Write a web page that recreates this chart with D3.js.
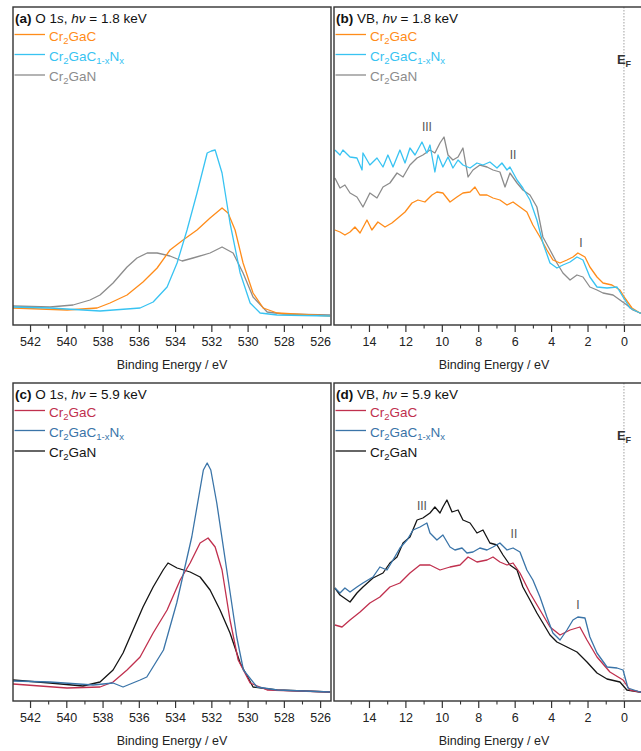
<!DOCTYPE html>
<html><head><meta charset="utf-8">
<script src="https://cdn.jsdelivr.net/npm/d3@7"></script>
<style>body{margin:0;background:#fff} svg text{font-family:"Liberation Sans",Arial,sans-serif}</style>
</head><body><svg id="c" width="641" height="751"></svg>
<script>
// ---------- tick labels ----------
const ticksO1s = [542,540,538,536,534,532,530,528,526];
const minorO1s = [543,541,539,537,535,533,531,529,527,525];
const ticksVB = [14,12,10,8,6,4,2,0];
const minorVB = [15,13,11,9,7,5,3,1,-1];

// ---------- (a) O 1s, 1.8 keV  [binding energy eV, intensity a.u.] ----------
const a_Cr2GaC = [[542.94,17],[539.96,15],[538.30,17],[537.59,22],[536.65,30],[535.77,43],[534.99,57],[534.28,75],[533.56,85],[532.79,95],[532.07,107],[531.41,117],[531.08,112],[530.69,95],[530.25,62],[529.70,32],[529.14,17],[528.37,12],[525.45,9]];
const a_Cr2GaCN = [[542.94,18],[540.9,17],[538.14,14],[535.93,17],[535.21,23],[534.44,38],[533.89,62],[533.34,95],[532.79,132],[532.23,172],[532.0,174],[531.79,175],[531.41,152],[530.97,102],[530.41,52],[529.86,22],[529.31,12],[528.37,10],[525.45,9]];
const a_Cr2GaN = [[542.94,19],[540.9,18],[539.63,20],[538.69,25],[538.14,30],[537.42,42],[536.65,58],[536.10,67],[535.54,72],[534.99,72],[534.28,69],[533.61,64],[533.01,67],[532.07,72],[531.41,78],[530.80,72],[530.25,52],[529.70,28],[528.92,13],[528.04,11],[525.45,10]];

// ---------- (b) VB, 1.8 keV ----------
const b_Cr2GaC = [[15.87,95],[15.59,93],[15.32,90],[15.04,93],[14.77,98],[14.49,92],[14.11,105],[13.84,95],[13.51,103],[13.12,98],[12.74,102],[12.41,107],[12.02,113],[11.64,122],[11.31,125],[10.93,123],[10.54,130],[10.27,133],[9.94,132],[9.55,123],[9.17,128],[8.84,132],[8.45,133],[8.18,138],[7.91,130],[7.52,130],[7.19,127],[6.81,125],[6.42,120],[6.09,123],[5.71,118],[5.33,113],[5.00,100],[4.61,88],[4.23,75],[3.90,65],[3.51,62],[3.13,65],[2.80,68],[2.53,72],[2.14,68],[1.87,58],[1.48,48],[1.15,42],[0.66,40],[0.22,35],[-0.05,27],[-0.44,17],[-0.88,12],[-1.5,11]];
const b_Cr2GaCN = [[15.87,175],[15.59,170],[15.43,175],[15.04,168],[14.66,167],[14.38,155],[14.33,172],[13.95,160],[13.56,167],[13.23,158],[12.96,170],[12.68,158],[12.30,175],[12.02,162],[11.75,177],[11.47,170],[11.09,183],[10.82,172],[10.65,180],[10.38,153],[10.21,170],[9.94,158],[9.66,168],[9.39,157],[9.11,165],[8.84,160],[8.45,157],[8.07,162],[7.74,160],[7.36,163],[6.97,157],[6.70,162],[6.42,155],[6.26,158],[5.87,145],[5.55,137],[5.16,125],[4.78,105],[4.45,82],[4.06,62],[3.68,57],[3.35,60],[2.96,63],[2.58,68],[2.25,65],[1.87,48],[1.48,38],[0.93,37],[0.38,38],[0.05,28],[-0.33,17],[-0.88,12],[-1.5,11]];
const b_Cr2GaN = [[15.87,147],[15.59,137],[15.32,140],[15.04,132],[14.66,128],[14.33,118],[13.95,132],[13.56,127],[13.23,138],[12.85,142],[12.46,152],[12.13,148],[11.75,160],[11.36,167],[11.04,170],[10.65,175],[10.38,172],[10.10,182],[9.88,188],[9.66,170],[9.39,165],[9.11,168],[8.84,177],[8.56,148],[8.29,155],[7.91,160],[7.52,158],[7.19,155],[6.81,153],[6.53,138],[6.26,152],[5.87,142],[5.55,135],[5.16,130],[4.78,118],[4.45,88],[4.06,75],[3.68,62],[3.35,52],[2.96,45],[2.58,50],[2.25,48],[1.87,38],[1.48,35],[1.15,32],[0.60,30],[0.22,25],[-0.16,20],[-0.49,15],[-0.88,12],[-1.5,11]];

// ---------- (c) O 1s, 5.9 keV ----------
const c_Cr2GaC = [[542.94,17],[539.96,13],[538.14,14],[537.42,19],[536.65,31],[535.93,44],[535.21,68],[534.44,91],[533.72,121],[533.17,138],[532.62,158],[532.18,163],[531.79,154],[531.41,131],[530.97,81],[530.52,41],[529.86,18],[528.92,11],[525.45,9]];
const c_Cr2GaCN = [[542.94,20],[540.9,19],[538.52,16],[537.42,18],[536.87,14],[535.93,21],[535.56,24],[534.64,51],[533.91,98],[533.08,164],[532.44,231],[532.23,238],[532.03,231],[531.70,198],[531.15,131],[530.60,64],[530.23,31],[529.48,14],[528.37,11],[525.45,9]];
const c_Cr2GaN = [[542.94,21],[540.9,18],[539.08,15],[538.14,19],[537.42,31],[536.87,48],[536.32,71],[535.77,94],[535.21,114],[534.66,131],[534.39,138],[533.89,133],[533.17,129],[532.62,124],[532.07,111],[531.52,91],[530.97,68],[530.41,38],[529.70,14],[528.37,11],[525.45,9]];

// ---------- (d) VB, 5.9 keV ----------
const d_Cr2GaC = [[15.87,76],[15.48,74],[15.04,81],[14.49,89],[13.95,98],[13.40,104],[12.85,114],[12.30,118],[11.75,128],[11.20,136],[10.65,136],[10.10,131],[9.55,134],[9.00,136],[8.56,144],[8.07,139],[7.52,141],[7.19,144],[6.81,139],[6.42,136],[6.09,138],[5.71,128],[5.16,108],[4.61,91],[4.06,74],[3.51,66],[2.96,71],[2.42,74],[2.03,61],[1.48,44],[0.77,29],[0.05,21],[-0.33,11],[-0.88,9],[-1.5,9]];
const d_Cr2GaCN = [[15.87,113],[15.59,108],[15.32,113],[15.04,109],[14.66,114],[14.33,118],[13.78,124],[13.40,134],[13.01,131],[12.68,141],[12.30,153],[11.91,161],[11.58,171],[11.20,174],[10.82,178],[10.65,168],[10.27,161],[9.94,166],[9.55,154],[9.28,151],[8.89,153],[8.62,148],[8.29,149],[7.91,153],[7.52,151],[7.19,154],[6.81,158],[6.42,151],[6.09,153],[5.71,149],[5.33,131],[5.00,121],[4.61,104],[4.23,84],[3.90,68],[3.51,61],[3.13,71],[2.80,81],[2.53,84],[2.14,83],[1.87,64],[1.48,48],[0.93,34],[0.38,33],[0.05,31],[-0.22,13],[-0.88,9],[-1.5,9]];
const d_Cr2GaN = [[15.87,113],[15.59,106],[15.04,99],[14.66,108],[14.33,114],[13.78,123],[13.23,128],[12.85,138],[12.46,144],[12.13,158],[11.75,164],[11.36,181],[11.04,183],[10.65,188],[10.38,194],[10.10,188],[9.94,194],[9.72,201],[9.44,189],[9.11,191],[8.84,181],[8.45,178],[8.07,168],[7.74,171],[7.36,158],[6.97,156],[6.64,146],[6.26,136],[5.87,131],[5.55,114],[5.16,101],[4.78,88],[4.45,78],[4.06,66],[3.68,59],[3.13,54],[2.58,49],[2.03,39],[1.48,28],[0.93,22],[0.22,19],[-0.16,11],[-0.88,9],[-1.5,9]];

// ---------- peak annotations [label, eV, intensity] ----------
const annB = [["III",10.82,194],["II",6.09,166],["I",2.36,78]];
const annD = [["III",11.09,191],["II",6.04,163],["I",2.53,92]];

// ---------- colours ----------
const col18 = ["#ff8c1a","#38c3f2","#8c8c8c"];
const col59 = ["#c0304e","#3a74a8","#141414"];

const svg = d3.select("#c");
const names = [
  [["Cr",0],["2",1],["GaC",0]],
  [["Cr",0],["2",1],["GaC",0],["1-x",1],["N",0],["x",1]],
  [["Cr",0],["2",1],["GaN",0]]
];

const panels = [
  {id:"a", box:[13,7,331,325], dom:[542.94,525.4], ticks:ticksO1s, minor:minorO1s, label:"(a)", line:"O 1", sub:"s", hv:"1.8", data:[a_Cr2GaC,a_Cr2GaCN,a_Cr2GaN], cols:col18, ef:false, ann:[]},
  {id:"b", box:[334,7,654,325], dom:[15.92,-1.65], ticks:ticksVB, minor:minorVB, label:"(b)", line:"VB", sub:"", hv:"1.8", data:[b_Cr2GaC,b_Cr2GaCN,b_Cr2GaN], cols:col18, ef:true, ann:annB},
  {id:"c", box:[13,383,331,701], dom:[542.94,525.4], ticks:ticksO1s, minor:minorO1s, label:"(c)", line:"O 1", sub:"s", hv:"5.9", data:[c_Cr2GaC,c_Cr2GaCN,c_Cr2GaN], cols:col59, ef:false, ann:[]},
  {id:"d", box:[334,383,654,701], dom:[15.92,-1.65], ticks:ticksVB, minor:minorVB, label:"(d)", line:"VB", sub:"", hv:"5.9", data:[d_Cr2GaC,d_Cr2GaCN,d_Cr2GaN], cols:col59, ef:true, ann:annD}
];

panels.forEach(p => {
  const [x0,y0,x1,y1] = p.box;
  const x = d3.scaleLinear().domain(p.dom).range([x0,x1]);
  const y = d3.scaleLinear().domain([0,318]).range([y1,y0]);
  const g = svg.append("g");
  g.append("clipPath").attr("id","clip"+p.id).append("rect")
    .attr("x",x0).attr("y",y0).attr("width",x1-x0).attr("height",y1-y0);

  if (p.ef) {
    g.append("line").attr("x1",x(0)).attr("x2",x(0)).attr("y1",y0).attr("y2",y1)
      .attr("stroke","#a0a0a0").attr("stroke-width",1).attr("stroke-dasharray","1.5,1.5");
    const t = g.append("text").attr("x",x(0)-7).attr("y",y0+57)
      .attr("font-size",13).attr("font-weight","bold").attr("fill","#333");
    t.append("tspan").text("E");
    t.append("tspan").attr("font-size",9).attr("dy",3).text("F");
  }

  const line = d3.line().x(d=>x(d[0])).y(d=>y(d[1]));
  const lg = g.append("g").attr("clip-path",`url(#clip${p.id})`);
  // draw order: grey/black first so coloured lines on top
  [2,0,1].forEach(i => {
    lg.append("path").datum(p.data[i]).attr("d",line)
      .attr("fill","none").attr("stroke",p.cols[i]).attr("stroke-width",1.3)
      .attr("stroke-linejoin","round");
  });

  p.ann.forEach(a => {
    g.append("text").attr("x",x(a[1])).attr("y",y(a[2])).attr("text-anchor","middle")
      .attr("font-size",12).attr("fill","#555").text(a[0]);
  });

  // frame
  g.append("rect").attr("x",x0).attr("y",y0).attr("width",x1-x0).attr("height",y1-y0)
    .attr("fill","none").attr("stroke","#333").attr("stroke-width",1.4);

  // axes
  const ax = g.append("g").attr("transform",`translate(0,${y1})`)
    .call(d3.axisBottom(x).tickValues(p.ticks).tickSize(7).tickPadding(5.5).tickFormat(d3.format("d")));
  ax.select(".domain").remove();
  ax.selectAll("line").attr("stroke","#333").attr("stroke-width",1.2);
  ax.selectAll("text").attr("font-size",12.5).attr("fill","#222")
    .attr("font-family",'"Liberation Sans",Arial,sans-serif');
  const axm = g.append("g").attr("transform",`translate(0,${y1})`)
    .call(d3.axisBottom(x).tickValues(p.minor.filter(v=>v<=Math.max(...p.dom)&&v>=Math.min(...p.dom))).tickSize(3.5).tickFormat(""));
  axm.select(".domain").remove();
  axm.selectAll("line").attr("stroke","#333").attr("stroke-width",1.1);

  g.append("text").attr("x",(x0+x1)/2).attr("y",y1+44).attr("text-anchor","middle")
    .attr("font-size",12.5).attr("fill","#222").text("Binding Energy / eV");

  // title
  const tt = g.append("text").attr("x",x0+2).attr("y",y0+16).attr("font-size",13.5).attr("fill","#111");
  tt.append("tspan").attr("font-weight","bold").text(p.label);
  tt.append("tspan").text(" " + p.line);
  if (p.sub) tt.append("tspan").attr("font-style","italic").text(p.sub);
  tt.append("tspan").text(", ");
  tt.append("tspan").attr("font-style","italic").text("hν");
  tt.append("tspan").text(" = " + p.hv + " keV");

  // legend
  const rows = [33.5,54,74];
  const lines = [27.5,47.5,68];
  names.forEach((nm,i) => {
    g.append("line").attr("x1",x0+1.5).attr("x2",x0+32).attr("y1",y0+lines[i]).attr("y2",y0+lines[i])
      .attr("stroke",p.cols[i]).attr("stroke-width",1.3);
    const t = g.append("text").attr("x",x0+36).attr("y",y0+rows[i]).attr("font-size",13.5).attr("fill",p.cols[i]);
    let sub = false;
    nm.forEach(([s,isSub]) => {
      const ts = t.append("tspan").text(s);
      if (isSub && !sub) { ts.attr("font-size",9.5).attr("dy",3); sub = true; }
      else if (isSub && sub) { ts.attr("font-size",9.5); }
      else if (!isSub && sub) { ts.attr("dy",-3); sub = false; }
    });
  });
});
</script></body></html>
